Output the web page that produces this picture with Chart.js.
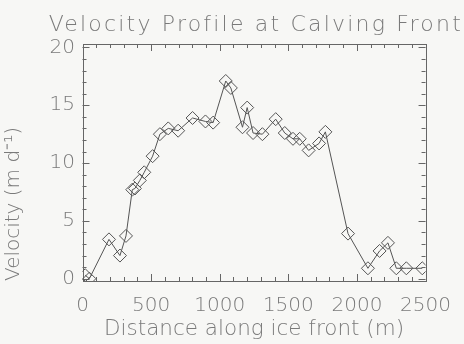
<!DOCTYPE html>
<html><head><meta charset="utf-8">
<script src="https://cdn.jsdelivr.net/npm/chart.js@4/dist/chart.umd.min.js"></script>
<style>html,body{margin:0;padding:0;background:#f7f7f5;}#wrap{width:464px;height:344px;}</style>
</head><body><div id="wrap"><canvas id="c" width="464" height="344"></canvas></div>
<script>
// Data
const distances = [20,50,193,273,317,363,382,418,450,511,564,625,697,802,896,952,1044,1081,1166,1200,1243,1311,1408,1474,1534,1583,1648,1724,1770,1935,2080,2165,2226,2287,2360,2476];
const velocities = [0.3,0.0,3.4,2.0,3.7,7.7,7.8,8.5,9.2,10.6,12.5,13.0,12.8,13.9,13.6,13.5,17.1,16.5,13.1,14.8,12.6,12.5,13.8,12.6,12.1,12.1,11.1,11.7,12.7,3.9,0.9,2.4,3.1,0.9,0.9,0.9];
const xTickValues = [0,500,1000,1500,2000,2500];
const yTickValues = [0,5,10,15,20];
const titleText = 'Velocity Profile at Calving Front';
const xTitleText = 'Distance along ice front (m)';
const yTitleText = 'Velocity (m d\u207B\u00B9)';

const points = distances.map((d,i)=>({x:d, y:velocities[i]}));
const TEXT = '#7a7a7a';
const AXIS = '#666';
const FONT = 'DejaVu Sans';
const supportsLS = ('letterSpacing' in CanvasRenderingContext2D.prototype);

const bgPlugin = {
  id:'bg',
  beforeDraw(chart){
    const c = chart.ctx; c.save(); c.fillStyle = '#f7f7f5';
    c.fillRect(0,0,chart.width,chart.height); c.restore();
  }
};
const framePlugin = {
  id:'frame',
  beforeDatasetsDraw(chart){
    const {ctx, chartArea:a, scales:{x, y}} = chart;
    ctx.save();
    ctx.strokeStyle = AXIS; ctx.lineWidth = 1;
    ctx.strokeRect(Math.round(a.left)+0.5, Math.round(a.top)+0.5, Math.round(a.right-a.left), Math.round(a.bottom-a.top));
    ctx.beginPath();
    for (let v = 0; v <= 2500; v += 100) {
      const px = Math.round(x.getPixelForValue(v)) + 0.5;
      const len = (v % 500 === 0) ? 7 : 4;
      ctx.moveTo(px, a.bottom); ctx.lineTo(px, a.bottom - len);
      ctx.moveTo(px, a.top); ctx.lineTo(px, a.top + len);
    }
    for (let v = 0; v <= 20; v += 1) {
      const py = Math.round(y.getPixelForValue(v)) + 0.5;
      const len = (v % 5 === 0) ? 7 : 4;
      ctx.moveTo(a.left, py); ctx.lineTo(a.left + len, py);
      ctx.moveTo(a.right, py); ctx.lineTo(a.right - len, py);
    }
    ctx.stroke();
    ctx.restore();
  }
};

const chart = new Chart(document.getElementById('c'), {
  type:'line',
  data:{datasets:[{
    data: points,
    borderColor:'#555', borderWidth:1,
    pointStyle:'rectRot', pointRadius:6.5, pointBorderWidth:1,
    pointBorderColor:'#555', pointBackgroundColor:'rgba(0,0,0,0)',
    fill:false, tension:0
  }]},
  options:{
    responsive:false, animation:false, devicePixelRatio:1,
    layout:{padding:{left:0,right:1,top:0,bottom:0}},
    plugins:{
      legend:{display:false}, tooltip:{enabled:false},
      title:{display:true, text:titleText, fullSize:true, align:'end', color:'#7a7a7a',
        font:{family:FONT, size: supportsLS ? 22 : 26, weight:'200', lineHeight:1.2},
        padding:{top:12,bottom: supportsLS ? 5.6 : 0.8}}
    },
    scales:{
      x:{type:'linear', min:0, max:2500,
        afterBuildTicks:s=>{s.ticks = xTickValues.map(v=>({value:v}));},
        afterFit:s=>{s.height = 63;},
        grid:{display:false, drawTicks:false}, border:{display:false},
        ticks:{color:TEXT, font:{family:FONT, size:20, weight:'200'}, padding:13, maxRotation:0, autoSkip:false,
          callback:v=>String(v)},
        title:{display:true, text:xTitleText, color:TEXT, font:{family:FONT, size:21.5, weight:'200', lineHeight:1.2}, padding:{top:0,bottom:1.5}}
      },
      y:{type:'linear', min:-0.2, max:20.3,
        afterBuildTicks:s=>{s.ticks = yTickValues.map(v=>({value:v}));},
        afterFit:s=>{s.width = 82.5;},
        grid:{display:false, drawTicks:false}, border:{display:false},
        ticks:{color:TEXT, font:{family:FONT, size:20, weight:'200'}, padding:7.5, autoSkip:false,
          callback:v=>String(v)},
        title:{display:true, text:yTitleText, align:'start', color:TEXT, font:{family:FONT, size:20, weight:'200', lineHeight:1.2}, padding:{top:2,bottom:0}}
      },
      yRightSpace:{type:'linear', position:'right', min:0, max:1, display:true,
        afterFit:s=>{s.width = 37;},
        grid:{display:false, drawTicks:false}, border:{display:false},
        ticks:{display:false}, title:{display:false}
      }
    }
  },
  plugins:[bgPlugin, framePlugin]
});

// wider letter spacing for the title, like the original plotting font
if (supportsLS && chart.titleBlock) {
  const tb = chart.titleBlock;
  const origDraw = tb.draw.bind(tb);
  tb.draw = function(){
    const c = chart.ctx; const prev = c.letterSpacing;
    c.letterSpacing = '2.2px'; origDraw(); c.letterSpacing = prev || '0px';
  };
  chart.draw();
}
</script></body></html>
